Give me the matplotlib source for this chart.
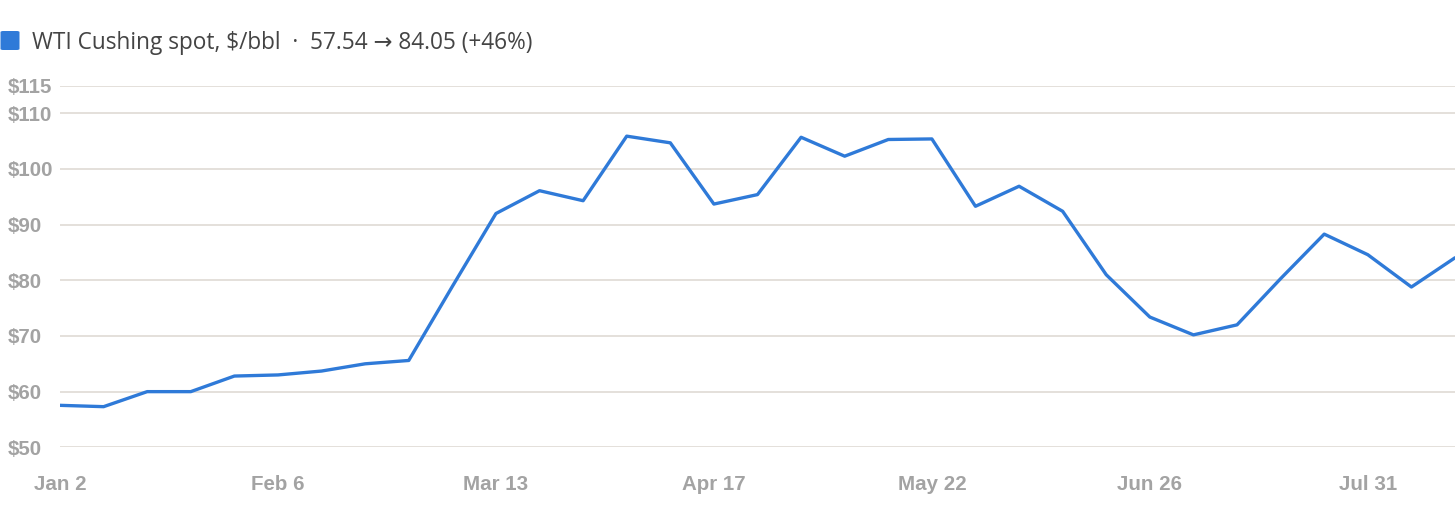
import matplotlib
matplotlib.use("Agg")
import matplotlib.pyplot as plt
import matplotlib.dates as mdates
import numpy as np
import pandas as pd

# weekly WTI Cushing spot prices, $/bbl
start_date = "2025-01-02"
prices = [57.54, 57.3, 60.0, 60.0, 62.8, 63.0, 63.7, 65.0, 65.6, 78.9,
          92.0, 96.1, 94.3, 105.9, 104.7, 93.7, 95.4, 105.7, 102.3, 105.3,
          105.4, 93.3, 96.9, 92.4, 81.0, 73.4, 70.2, 72.0, 80.3, 88.3,
          84.6, 78.8, 84.05]
y_ticks = [50, 60, 70, 80, 90, 100, 110, 115]
series_name = "WTI Cushing spot, $/bbl"

dates = pd.date_range(start_date, periods=len(prices), freq="7D")
tick_dates = dates[::5]

line_color = "#2f7ad8"
grid_color = "#e2ddd8"
label_color = "#a3a3a3"

fig = plt.figure(figsize=(14.56, 5.31), dpi=100)
ax = fig.add_axes([60 / 1456, 1 - 447.3 / 531, 1395 / 1456, (447.3 - 85.5) / 531])

ax.plot(dates, prices, color=line_color, linewidth=2.4,
        solid_joinstyle="round", solid_capstyle="round", zorder=3)

ax.set_xlim(dates[0], dates[-1])
ax.set_ylim(50, 115)
ax.set_yticks(y_ticks)
ax.set_yticklabels([f"${v}" for v in y_ticks])
ax.set_xticks(tick_dates)
ax.set_xticklabels([d.strftime("%b %-d") for d in tick_dates])

for v in y_ticks:
    ax.axhline(v, color=grid_color, linewidth=1.3, zorder=1)

for s in ax.spines.values():
    s.set_visible(False)
ax.tick_params(axis="both", length=0, labelcolor=label_color, labelsize=14.8)
ax.tick_params(axis="y", pad=38)
ax.tick_params(axis="x", pad=20)
for lbl in ax.get_yticklabels():
    lbl.set_horizontalalignment("left")
    lbl.set_fontfamily("Liberation Sans")
    lbl.set_fontweight("bold")
for lbl in ax.get_xticklabels():
    lbl.set_fontfamily("Liberation Sans")
    lbl.set_fontweight("bold")

# legend line at the top
first, last = prices[0], prices[-1]
change = (last - first) / first * 100
fig.patches.append(matplotlib.patches.FancyBboxPatch(
    (0.5 / 1456, 1 - 50 / 531), 19 / 1456, 19 / 531,
    boxstyle="round,pad=0,rounding_size=0.002", transform=fig.transFigure,
    facecolor=line_color, edgecolor="none"))
fig.text(32 / 1456, 1 - 43 / 531,
         f"{series_name}  \u00b7  {first:.2f} \u2192 {last:.2f} (+{change:.0f}%)",
         fontsize=16.3, color="#444444", va="center", ha="left",
         family=["Open Sans", "DejaVu Sans"])

fig.savefig("out.png", dpi=100)
